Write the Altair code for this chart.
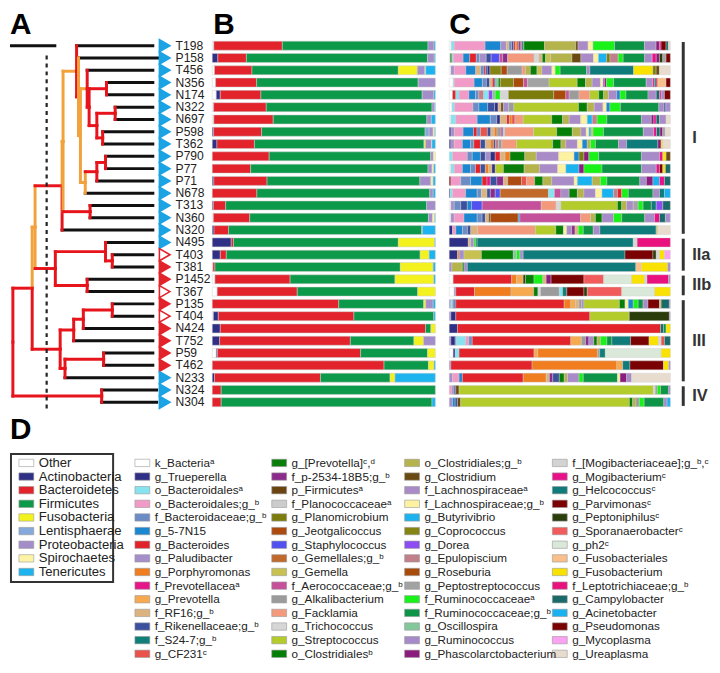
import altair as alt
import pandas as pd

FONT = "Liberation Sans Narrow, Arial Narrow, Liberation Sans, Arial, sans-serif"
FONT_BOLD = "Liberation Sans, Arial, sans-serif"

# ---------------- samples (rows, top to bottom) ----------------
SAMPLES = ["T198", "P158", "T456", "N356", "N174", "N322", "N697", "P598", "T362", "P790",
           "P77", "P71", "N678", "T313", "N360", "N320", "N495", "T403", "T381", "P1452",
           "T367", "P135", "T404", "N424", "T752", "P59", "T462", "N233", "N324", "N304"]
MARKERS = ["blue", "blue", "blue", "blue", "blue", "blue", "blue", "blue", "blue", "blue",
           "blue", "blue", "blue", "blue", "blue", "blue", "blue", "open", "red", "red",
           "open", "red", "open", "red", "red", "red", "red", "blue", "blue", "blue"]
LEAF_END = [148, 153, 148, 148, 148, 148, 148, 148, 148, 148,
            148, 148, 148, 148, 148, 148, 148, 148, 148, 148,
            148, 148, 148, 148, 148, 148, 148, 148, 152, 152]

# dendrogram: (node, height, child A, child B, branch colour, upper vertical colour, lower vertical colour)
TREE_NODES = [
    ("root", 3, "Y", "IV", "red", "red", "red"),
    ("Y", 23, "X", "III", "red", "orange", "red"),
    ("X", 26, "I", "II", "orange", "orange", "orange"),
    ("I", 54, "Ia", "N320", "red", "orange", "red"),
    ("Ia", 55, "Ib", "TN", "orange", "orange", "orange"),
    ("Ib", 69, "T198", "Ic", "orange", "red", "red"),
    ("Ic", 71, "P158", "Id", "red", "orange", "orange"),
    ("Id", 73, "Ie", "If", "orange", "orange", "orange"),
    ("Ie", 80, "T456", "Ig", "orange", "red", "red"),
    ("Ig", 82, "NN", "Ih", "red", "red", "red"),
    ("NN", 100, "N356", "N174", "red", "red", "red"),
    ("Ih", 90, "NP", "PT", "red", "red", "red"),
    ("NP", 109, "N322", "N697", "red", "red", "red"),
    ("PT", 96, "P598", "T362", "red", "red", "red"),
    ("If", 78, "PPP", "N678", "orange", "orange", "orange"),
    ("PPP", 90, "PP", "P71", "red", "red", "red"),
    ("PP", 99, "P790", "P77", "red", "red", "red"),
    ("TN", 83, "T313", "N360", "red", "red", "red"),
    ("II", 47, "IIa", "IIb", "red", "red", "red"),
    ("IIa", 99, "N495", "TT", "red", "red", "red"),
    ("TT", 106, "T403", "T381", "red", "red", "red"),
    ("IIb", 80, "P1452", "T367", "red", "red", "red"),
    ("III", 52, "IIIA", "IIIB", "red", "red", "red"),
    ("IIIA", 66, "IIIA3", "T752", "red", "red", "red"),
    ("IIIA3", 76, "IIIA2", "N424", "red", "red", "red"),
    ("IIIA2", 106, "P135", "T404", "red", "red", "red"),
    ("IIIB", 57, "IIIB2", "N233", "red", "red", "red"),
    ("IIIB2", 97, "P59", "T462", "red", "red", "red"),
    ("IV", 95, "N324", "N304", "red", "red", "red"),
]
CUTOFF = 38
SCALE_BAR = 48

GROUP_LABELS = ["I", "IIa", "IIb", "III", "IV"]
GROUP_FIRST = ["T198", "N495", "P1452", "P135", "N324"]
GROUP_LAST = ["N320", "T381", "T367", "N233", "N304"]

# ---------------- panel B: phyla (% of reads) ----------------
PHYLA = ["Other", "Actinobacteria", "Bacteroidetes", "Firmicutes", "Fusobacteria",
         "Lentisphaerae", "Proteobacteria", "Spirochaetes", "Tenericutes"]
PHYLUM_COLORS = ["#ffffff", "#2f2f86", "#e3232b", "#0c9a4a", "#f4f21e",
                 "#84a9da", "#a48ec9", "#fdf3a6", "#1db3ef"]
B_VALUES = [
    [0.7, 0, 30.7, 65.3, 0, 0, 2.7, 0, 0.6],
    [0, 2.5, 12.8, 81.2, 0, 0, 3.0, 0, 0.5],
    [1.0, 0, 16.8, 65.6, 8.5, 0, 3.4, 0.4, 4.3],
    [1.5, 0, 18.4, 72.4, 0, 0, 7.7, 0, 0],
    [1.8, 1.8, 18.2, 72.3, 0, 0, 5.2, 0, 0.7],
    [0.6, 0, 23.6, 74.3, 0, 0, 1.2, 0, 0.3],
    [0.7, 0, 26.6, 68.8, 0, 0, 2.0, 0, 1.8],
    [0, 0.6, 21.5, 73.3, 0, 1.8, 1.8, 0.7, 0.3],
    [0, 2.1, 16.8, 76.0, 0.7, 0, 2.7, 0.2, 1.5],
    [0, 0, 25.5, 72.4, 0, 0, 1.2, 0.9, 0],
    [0, 0, 17.2, 79.5, 0, 0, 1.8, 0.8, 0.7],
    [0, 0.7, 23.7, 68.1, 0, 0, 4.9, 1.0, 1.0],
    [0, 0, 20.0, 77.5, 0, 0, 1.5, 0, 1.0],
    [0, 0.5, 5.5, 90.1, 0, 0, 3.9, 0, 0],
    [0.5, 0, 16.3, 80.1, 0, 0, 1.8, 1.0, 0.3],
    [0, 0.8, 6.5, 86.6, 0, 0, 0.3, 0, 5.8],
    [0, 8.5, 1.0, 73.9, 16.3, 0, 0, 0, 0.3],
    [0, 3.6, 2.7, 86.9, 4.0, 0, 0, 0, 2.8],
    [0.3, 0, 0.9, 83.1, 14.7, 0, 0, 0, 1.0],
    [1.2, 0, 33.7, 47.0, 17.4, 0, 0, 0, 0.7],
    [2.2, 0, 35.9, 54.0, 7.9, 0, 0, 0, 0],
    [0, 0, 56.7, 38.1, 0.9, 0, 3.3, 0, 1.0],
    [0.5, 2.2, 60.8, 35.8, 0, 0, 0, 0, 0.7],
    [0, 3.6, 92.0, 2.4, 2.0, 0, 0, 0, 0],
    [0, 3.3, 58.6, 28.5, 4.3, 0, 5.3, 0, 0],
    [1.8, 0.5, 64.2, 30.0, 3.5, 0, 0, 0, 0],
    [0, 0, 77.0, 19.9, 2.5, 0, 0, 0, 0.6],
    [0, 1.0, 47.5, 31.2, 2.2, 0, 0, 0, 18.1],
    [0, 0, 4.0, 96.0, 0, 0, 0, 0, 0],
    [0, 0, 4.0, 94.5, 0, 0, 0, 0, 1.5],
]

# ---------------- panel C: genera ----------------
GENUS_NAMES = [
    "k_Bacteriaᵃ", "g_Trueperella", "o_Bacteroidalesᵃ", "o_Bacteroidales;g_ᵇ", "f_Bacteroidaceae;g_ᵇ",
    "g_5-7N15", "g_Bacteroides", "g_Paludibacter", "g_Porphyromonas", "f_Prevotellaceaᵃ",
    "g_Prevotella", "f_RF16;g_ᵇ", "f_Rikenellaceae;g_ᵇ", "f_S24-7;g_ᵇ", "g_CF231ᶜ",
    "g_[Prevotella]ᶜ,ᵈ", "f_p-2534-18B5;g_ᵇ", "p_Firmicutesᵃ", "f_Planococcaceaeᵃ", "g_Planomicrobium",
    "g_Jeotgalicoccus", "g_Staphylococcus", "o_Gemellales;g_ᵇ", "g_Gemella", "f_Aerococcaceae;g_ᵇ",
    "g_Alkalibacterium", "g_Facklamia", "g_Trichococcus", "g_Streptococcus", "o_Clostridialesᵇ",
    "o_Clostridiales;g_ᵇ", "g_Clostridium", "f_Lachnospiraceaeᵃ", "f_Lachnospiraceae;g_ᵇ", "g_Butyrivibrio",
    "g_Coprococcus", "g_Dorea", "g_Epulopiscium", "g_Roseburia", "g_Peptostreptococcus",
    "f_Ruminococcaceaeᵃ", "f_Ruminococcaceae;g_ᵇ", "g_Oscillospira", "g_Ruminococcus", "g_Phascolarctobacterium",
    "f_[Mogibacteriaceae];g_ᵇ,ᶜ", "g_Mogibacteriumᶜ", "g_Helcococcusᶜ", "g_Parvimonasᶜ", "g_Peptoniphilusᶜ",
    "g_Sporanaerobacterᶜ", "g_ph2ᶜ", "o_Fusobacteriales", "g_Fusobacterium", "f_Leptotrichiaceae;g_ᵇ",
    "g_Campylobacter", "g_Acinetobacter", "g_Pseudomonas", "g_Mycoplasma", "g_Ureaplasma",
]
GENUS_COLORS = [
    "#ffffff", "#2f2f86", "#86e3f0", "#f19ac7", "#6c8cc6",
    "#1b87d0", "#e3232b", "#a58fca", "#f07d1f", "#e6158a",
    "#f6a94e", "#dcb27e", "#3c509e", "#0f7f78", "#e8534b",
    "#0a7d0a", "#8b2b8b", "#6a4512", "#cccccc", "#7c7c0c",
    "#ac4a10", "#5151ef", "#c0692b", "#c8c152", "#c5519b",
    "#9b9b9b", "#f39a7c", "#d6d6d6", "#b3cb2b", "#057f05",
    "#b5b44c", "#6b4a12", "#a98bc7", "#fdf1a2", "#1bb3ef",
    "#858513", "#8d4cf2", "#c17f8a", "#a84b0b", "#a3a3a3",
    "#19f219", "#0e9447", "#82c89b", "#a68bc8", "#8c1c7c",
    "#d3d3d3", "#e8118a", "#0f7b7b", "#7a0202", "#2b3d0b",
    "#f25b5b", "#d9e8d9", "#f9c08c", "#f9e102", "#e8117e",
    "#1b6a6a", "#1ab1f0", "#7a0202", "#f9a2f2", "#e8dccf",
]
# (genus number, relative width) left to right for each sample
C_SEGMENTS = {
    "T198": [(1, 6), (3, 9), (4, 93), (6, 47), (8, 17), (12, 8), (5, 8), (13, 6), (7, 5), (9, 5), (15, 6), (2, 4), (10, 4), (14, 5), (16, 2), (30, 62), (31, 94), (32, 7), (33, 30), (34, 15), (41, 65), (42, 90), (44, 35), (45, 10), (47, 5), (49, 15), (56, 7), (60, 6)],
    "P158": [(1, 3), (16, 5), (3, 4), (4, 30), (6, 20), (7, 20), (5, 10), (8, 20), (13, 15), (22, 25), (25, 10), (17, 15), (27, 80), (28, 15), (12, 10), (30, 10), (24, 15), (31, 65), (32, 27), (33, 38), (34, 15), (35, 25), (20, 10), (38, 25), (41, 15), (42, 65), (44, 23), (47, 12), (45, 10), (50, 10), (40, 10), (49, 13)],
    "T456": [(1, 5), (8, 10), (4, 35), (6, 30), (12, 15), (5, 10), (7, 5), (13, 5), (2, 8), (36, 34), (21, 18), (26, 45), (27, 10), (31, 15), (16, 20), (24, 15), (33, 30), (34, 10), (41, 15), (42, 80), (44, 10), (48, 132), (54, 58), (20, 10), (32, 10), (60, 33)],
    "N356": [(1, 12), (3, 3), (4, 60), (6, 25), (5, 12), (13, 10), (12, 8), (7, 6), (2, 4), (43, 8), (16, 6), (36, 40), (39, 30), (25, 12), (40, 65), (29, 85), (30, 25), (31, 20), (33, 25), (34, 8), (37, 4), (45, 6), (41, 22), (42, 98), (44, 20), (47, 5), (56, 5), (7, 5), (53, 25), (49, 13)],
    "N174": [(1, 10), (7, 10), (3, 10), (4, 30), (6, 20), (5, 10), (38, 15), (3, 15), (37, 12), (43, 8), (41, 15), (28, 25), (20, 138), (39, 37), (25, 10), (26, 30), (27, 33), (29, 27), (30, 15), (31, 15), (33, 25), (6, 10), (41, 18), (42, 67), (44, 25), (56, 10), (47, 5), (8, 10), (49, 18)],
    "N322": [(1, 8), (3, 7), (4, 53), (5, 17), (6, 25), (13, 20), (2, 10), (12, 8), (32, 7), (8, 15), (26, 15), (29, 185), (30, 25), (31, 20), (33, 25), (34, 10), (6, 10), (41, 30), (42, 110), (44, 15), (13, 5), (8, 13)],
    "N697": [(1, 5), (3, 15), (4, 65), (6, 40), (5, 20), (2, 10), (12, 20), (7, 8), (9, 8), (15, 9), (27, 25), (29, 87), (30, 33), (31, 20), (33, 35), (34, 20), (35, 15), (38, 15), (41, 30), (42, 105), (44, 30), (45, 8), (47, 7), (56, 10), (33, 20), (60, 13)],
    "P598": [(2, 5), (8, 10), (4, 25), (6, 30), (7, 10), (5, 10), (15, 20), (13, 10), (12, 10), (9, 8), (26, 12), (10, 5), (3, 5), (27, 83), (29, 67), (30, 45), (31, 25), (33, 15), (34, 8), (35, 6), (24, 6), (41, 30), (42, 115), (44, 30), (47, 8), (56, 10), (45, 8), (40, 7), (60, 15)],
    "T362": [(2, 5), (8, 10), (4, 25), (6, 25), (5, 10), (7, 20), (13, 15), (12, 15), (9, 10), (2, 5), (38, 10), (26, 10), (27, 45), (29, 110), (30, 25), (31, 15), (33, 35), (34, 15), (6, 15), (31, 10), (41, 15), (42, 70), (44, 25), (48, 95), (45, 10), (54, 5), (60, 23)],
    "P790": [(3, 10), (4, 45), (5, 15), (6, 25), (13, 15), (8, 15), (2, 15), (7, 15), (12, 15), (9, 15), (30, 45), (31, 35), (33, 68), (34, 47), (6, 15), (20, 15), (45, 15), (41, 30), (42, 130), (44, 55), (47, 10), (54, 10), (32, 13)],
    "P77": [(1, 5), (3, 10), (4, 25), (6, 25), (5, 15), (7, 15), (13, 15), (9, 10), (12, 10), (2, 10), (29, 25), (16, 63), (31, 47), (33, 55), (34, 25), (35, 40), (45, 15), (41, 55), (42, 120), (44, 45), (47, 10), (49, 10), (54, 8), (56, 15)],
    "P71": [(49, 5), (4, 30), (5, 30), (6, 35), (7, 15), (10, 10), (13, 20), (17, 20), (12, 13), (21, 42), (15, 15), (27, 25), (30, 25), (31, 27), (33, 68), (34, 10), (35, 45), (31, 25), (41, 20), (42, 100), (44, 20), (45, 20), (57, 20), (47, 15), (56, 18)],
    "N678": [(2, 3), (3, 7), (4, 40), (6, 35), (5, 13), (12, 17), (13, 10), (17, 15), (22, 15), (23, 147), (3, 18), (25, 20), (33, 25), (30, 25), (31, 20), (44, 35), (34, 20), (35, 35), (38, 12), (7, 13), (41, 20), (42, 75), (33, 20), (48, 15), (57, 18)],
    "T313": [(1, 5), (8, 10), (5, 20), (13, 20), (6, 13), (22, 32), (25, 180), (27, 45), (28, 15), (29, 172), (30, 13), (31, 15), (33, 20), (40, 15), (41, 15), (42, 25), (48, 15), (37, 20), (56, 23)],
    "N360": [(1, 5), (8, 10), (4, 30), (6, 40), (5, 15), (13, 10), (12, 10), (32, 5), (21, 85), (6, 5), (25, 185), (27, 30), (31, 15), (30, 20), (44, 35), (41, 25), (42, 70), (33, 30), (47, 15), (56, 18), (8, 15)],
    "N320": [(2, 10), (4, 10), (6, 20), (5, 15), (13, 10), (12, 20), (27, 175), (29, 62), (30, 23), (34, 10), (33, 15), (17, 10), (12, 10), (41, 15), (42, 30), (44, 20), (48, 170), (24, 5), (60, 38)],
    "N495": [(2, 58), (12, 7), (8, 10), (41, 5), (42, 5), (48, 475), (28, 12), (55, 101)],
    "T403": [(2, 25), (9, 5), (8, 15), (24, 53), (30, 97), (43, 10), (41, 10), (8, 10), (48, 310), (49, 85), (50, 10), (28, 10), (54, 15), (59, 18)],
    "T381": [(8, 8), (31, 32), (30, 5), (8, 10), (48, 513), (53, 17), (54, 80), (8, 8)],
    "P1452": [(1, 12), (7, 178), (9, 15), (11, 20), (50, 7), (30, 26), (41, 27), (12, 10), (45, 15), (49, 100), (51, 60), (52, 85), (54, 40), (28, 7), (55, 66), (8, 5)],
    "T367": [(1, 15), (8, 5), (7, 57), (9, 111), (11, 69), (30, 13), (28, 8), (26, 57), (3, 10), (14, 13), (49, 52), (50, 10), (51, 105), (52, 100), (54, 48)],
    "P135": [(8, 5), (3, 5), (5, 5), (13, 5), (7, 330), (9, 20), (11, 15), (12, 10), (26, 8), (33, 7), (29, 108), (30, 17), (34, 10), (6, 15), (41, 15), (42, 15), (44, 15), (49, 35), (24, 5), (56, 25), (8, 3)],
    "T404": [(8, 5), (2, 15), (7, 408), (29, 120), (50, 122), (8, 3)],
    "N424": [(2, 25), (7, 618), (56, 9), (42, 8), (54, 13)],
    "T752": [(8, 5), (2, 13), (5, 4), (3, 28), (4, 10), (5, 10), (7, 300), (11, 32), (26, 13), (17, 10), (33, 15), (30, 10), (31, 10), (41, 20), (42, 15), (48, 57), (49, 56), (54, 29), (28, 8), (15, 10), (56, 18)],
    "P59": [(1, 12), (2, 6), (3, 12), (7, 228), (11, 12), (9, 182), (26, 6), (14, 17), (52, 170), (54, 28)],
    "T462": [(8, 5), (7, 247), (9, 258), (11, 18), (48, 22), (49, 102), (54, 16), (8, 5)],
    "N233": [(8, 10), (4, 20), (6, 10), (7, 185), (9, 70), (12, 10), (17, 10), (13, 20), (30, 15), (31, 10), (33, 35), (41, 13), (42, 104), (34, 8), (45, 20), (44, 15), (60, 118)],
    "N324": [(4, 8), (8, 7), (13, 5), (32, 10), (29, 593), (28, 6), (26, 6), (41, 10), (42, 25), (44, 5)],
    "N304": [(8, 10), (6, 8), (13, 7), (32, 10), (29, 515), (30, 10), (31, 10), (26, 10), (41, 15), (42, 60), (44, 10), (57, 10)],
}

# ---------------- build tables ----------------
NROW = len(SAMPLES)
nodes = {n[0]: n for n in TREE_NODES}


def ypos(name):
    if name in SAMPLES:
        return float(SAMPLES.index(name))
    _, _, a, b, _, _, _ = nodes[name]
    return (ypos(a) + ypos(b)) / 2


segs = []
for name, x, a, b, hcol, vtop, vbot in TREE_NODES:
    ya, yb, ym = ypos(a), ypos(b), ypos(name)
    segs.append(dict(x=x, x2=x, y=ya, y2=ym, c=vtop, layer=1))
    segs.append(dict(x=x, x2=x, y=ym, y2=yb, c=vbot, layer=1))
    for ch in (a, b):
        if ch in SAMPLES:
            segs.append(dict(x=x, x2=LEAF_END[SAMPLES.index(ch)], y=ypos(ch), y2=ypos(ch), c="black", layer=0))
        else:
            segs.append(dict(x=x, x2=nodes[ch][1], y=ypos(ch), y2=ypos(ch), c=nodes[ch][4], layer=1))
seg_df = pd.DataFrame(segs)

samp_df = pd.DataFrame({"idx": list(range(NROW)), "name": SAMPLES, "marker": MARKERS})

b_rows = []
for s, vals in zip(SAMPLES, B_VALUES):
    for k, (p, v) in enumerate(zip(PHYLA, vals)):
        if v > 0:
            b_rows.append(dict(sample=s, phylum=p, v=v, k=k))
b_df = pd.DataFrame(b_rows)

c_rows = []
for s in SAMPLES:
    for pos, (g, w) in enumerate(C_SEGMENTS[s]):
        c_rows.append(dict(sample=s, genus=GENUS_NAMES[g - 1], v=w, pos=pos))
c_df = pd.DataFrame(c_rows)

grp_df = pd.DataFrame({
    "label": GROUP_LABELS,
    "y0": [SAMPLES.index(f) - 0.3 for f in GROUP_FIRST],
    "y1": [SAMPLES.index(l) + 0.3 for l in GROUP_LAST],
    "ym": [(SAMPLES.index(f) + SAMPLES.index(l)) / 2 for f, l in zip(GROUP_FIRST, GROUP_LAST)],
})

# ---------------- layout constants ----------------
TOP = 29            # room for the panel letters inside each panel
ROWS_H = 372        # height taken by the 30 rows
H = 404
ROW_RANGE = [TOP, TOP + ROWS_H]
ROW_Y = alt.Scale(domain=[-0.5, NROW - 0.5], range=ROW_RANGE, nice=False, zero=False)
TREE_X = alt.Scale(domain=[0, 150], range=[0, 146], nice=False, zero=False)
BAND_Y = alt.Scale(domain=SAMPLES, range=ROW_RANGE, paddingInner=0.27, paddingOuter=0.135)
LETTER_BASE = 23.5


def letter(t, x, y=LETTER_BASE):
    return alt.Chart(pd.DataFrame({"t": [t]})).mark_text(
        align="left", baseline="alphabetic", fontSize=30, font=FONT_BOLD, fontWeight="bold",
        color="#000000", clip=True).encode(x=alt.value(x), y=alt.value(y), text="t:N")


line_colors = alt.Color("c:N", scale=alt.Scale(domain=["black", "red", "orange"],
                                                range=["#111111", "#e8141c", "#f2a23c"]), legend=None)

tree_black = alt.Chart(seg_df).transform_filter(alt.datum.layer == 0).mark_rule(
    strokeWidth=3, strokeCap="square").encode(
    x=alt.X("x:Q", scale=TREE_X, axis=None), x2="x2:Q",
    y=alt.Y("y:Q", scale=ROW_Y, axis=None), y2="y2:Q", color=line_colors)
tree_col = alt.Chart(seg_df).transform_filter(alt.datum.layer == 1).mark_rule(
    strokeWidth=3, strokeCap="square").encode(
    x=alt.X("x:Q", scale=TREE_X, axis=None), x2="x2:Q",
    y=alt.Y("y:Q", scale=ROW_Y, axis=None), y2="y2:Q", color=line_colors)
cut = alt.Chart(pd.DataFrame({"x": [CUTOFF], "y": [0.8], "y2": [NROW - 0.35]})).mark_rule(
    strokeWidth=2.2, strokeDash=[4, 4], color="#222222").encode(
    x=alt.X("x:Q", scale=TREE_X, axis=None),
    y=alt.Y("y:Q", scale=ROW_Y, axis=None), y2="y2:Q")
sbar = alt.Chart(pd.DataFrame({"x": [0], "x2": [SCALE_BAR], "y": [0]})).mark_rule(
    strokeWidth=3, color="#111111").encode(
    x=alt.X("x:Q", scale=TREE_X, axis=None), x2="x2:Q",
    y=alt.Y("y:Q", scale=ROW_Y, axis=None))
tri = alt.Chart(samp_df).mark_point(shape="triangle-right", filled=True, size=150,
                                    strokeWidth=1.6, opacity=1).encode(
    x=alt.value(156),
    y=alt.Y("idx:Q", scale=ROW_Y, axis=None),
    fill=alt.Fill("marker:N", scale=alt.Scale(domain=["blue", "red", "open"],
                                               range=["#1ba3e4", "#e3232b", "#ffffff"]), legend=None),
    stroke=alt.Stroke("marker:N", scale=alt.Scale(domain=["blue", "red", "open"],
                                                   range=["#1ba3e4", "#e3232b", "#e3232b"]), legend=None))
lab = alt.Chart(samp_df).mark_text(align="left", baseline="middle", fontSize=12.2, font=FONT,
                                   color="#222222").encode(
    x=alt.value(167), y=alt.Y("idx:Q", scale=ROW_Y, axis=None), text="name:N")

tree_chart = alt.layer(tree_black, tree_col, cut, sbar, tri, lab, letter("A", 0)).properties(
    width=203, height=H)

b_chart = alt.layer(
    alt.Chart(b_df).mark_bar(stroke="#cfcfcf", strokeWidth=0.5).encode(
        x=alt.X("v:Q", stack="normalize", axis=None),
        y=alt.Y("sample:N", scale=BAND_Y, sort=SAMPLES, axis=None),
        color=alt.Color("phylum:N", scale=alt.Scale(domain=PHYLA, range=PHYLUM_COLORS), legend=None),
        order=alt.Order("k:Q"),
    ),
    letter("B", 1),
).properties(width=225, height=H)

c_chart = alt.layer(
    alt.Chart(c_df).mark_bar(stroke="#cfcfcf", strokeWidth=0.4).encode(
        x=alt.X("v:Q", stack="normalize", axis=None, scale=alt.Scale(range=[13, 236])),
        y=alt.Y("sample:N", scale=BAND_Y, sort=SAMPLES, axis=None),
        color=alt.Color("genus:N", scale=alt.Scale(domain=GENUS_NAMES, range=GENUS_COLORS), legend=None),
        order=alt.Order("pos:Q"),
    ),
    letter("C", 13),
).properties(width=236, height=H)

br_rule = alt.Chart(grp_df).mark_rule(strokeWidth=3, color="#333333").encode(
    x=alt.value(12), y=alt.Y("y0:Q", scale=ROW_Y, axis=None), y2="y1:Q")
br_text = alt.Chart(grp_df).mark_text(align="left", baseline="middle", fontSize=16.5,
                                      fontWeight="bold", font=FONT_BOLD, color="#333333").encode(
    x=alt.value(21), y=alt.Y("ym:Q", scale=ROW_Y, axis=None), text="label:N")
br_chart = alt.layer(br_rule, br_text).properties(width=40, height=H)

row1 = alt.hconcat(tree_chart, b_chart, c_chart, br_chart, spacing=0).resolve_scale(
    color="independent", fill="independent", stroke="independent")

# ---------------- panel D: legends ----------------
LSTEP = 13.75
L0 = 51
LEG_Y = alt.Scale(domain=[0, 14], range=[L0, L0 + 14 * LSTEP], nice=False, zero=False)
phy_df = pd.DataFrame({"name": PHYLA, "i": list(range(len(PHYLA)))})
gen_df = pd.DataFrame({"name": GENUS_NAMES,
                       "i": [k % 15 for k in range(len(GENUS_NAMES))],
                       "col": [k // 15 for k in range(len(GENUS_NAMES))]})

box = alt.Chart(pd.DataFrame({"a": [0]})).mark_rect(fillOpacity=0, stroke="#333333",
                                                     strokeWidth=2).encode(
    x=alt.value(1), x2=alt.value(104), y=alt.value(L0 - 9), y2=alt.value(L0 + 8 * LSTEP + 10))
phy_sw = alt.Chart(phy_df).transform_calculate(ya="datum.i - 0.27", yb="datum.i + 0.27").mark_rect(
    stroke="#9a9a9a", strokeWidth=0.6).encode(
    x=alt.value(9), x2=alt.value(24),
    y=alt.Y("ya:Q", scale=LEG_Y, axis=None), y2="yb:Q",
    color=alt.Color("name:N", scale=alt.Scale(domain=PHYLA, range=PHYLUM_COLORS), legend=None))
phy_tx = alt.Chart(phy_df).mark_text(align="left", baseline="middle", fontSize=13.2, font=FONT,
                                     color="#222222").encode(
    x=alt.value(29), y=alt.Y("i:Q", scale=LEG_Y, axis=None), text="name:N")

SW_X = [126, 264, 398, 547]
leg_layers = [box, phy_sw, phy_tx]
for c, sx in enumerate(SW_X):
    leg_layers.append(
        alt.Chart(gen_df).transform_filter(alt.datum.col == c)
        .transform_calculate(ya="datum.i - 0.27", yb="datum.i + 0.27")
        .mark_rect(stroke="#9a9a9a", strokeWidth=0.6).encode(
            x=alt.value(sx), x2=alt.value(sx + 15),
            y=alt.Y("ya:Q", scale=LEG_Y, axis=None), y2="yb:Q",
            color=alt.Color("name:N", scale=alt.Scale(domain=GENUS_NAMES, range=GENUS_COLORS),
                            legend=None)))
for c, sx in enumerate(SW_X):
    leg_layers.append(
        alt.Chart(gen_df).transform_filter(alt.datum.col == c)
        .mark_text(align="left", baseline="middle", fontSize=11.8, font=FONT, color="#222222")
        .encode(x=alt.value(sx + 20), y=alt.Y("i:Q", scale=LEG_Y, axis=None), text="name:N"))
leg_layers.append(letter("D", 0, 27))

legend_chart = alt.layer(*leg_layers).resolve_scale(color="independent").properties(
    width=704, height=L0 + 14 * LSTEP + 7)

chart = alt.vconcat(row1, legend_chart, spacing=0).resolve_scale(
    color="independent", fill="independent", stroke="independent"
).properties(padding=0).configure(padding=0).configure_view(stroke=None)
chart.save("out.html", embed_options={"renderer": "svg", "actions": False})
